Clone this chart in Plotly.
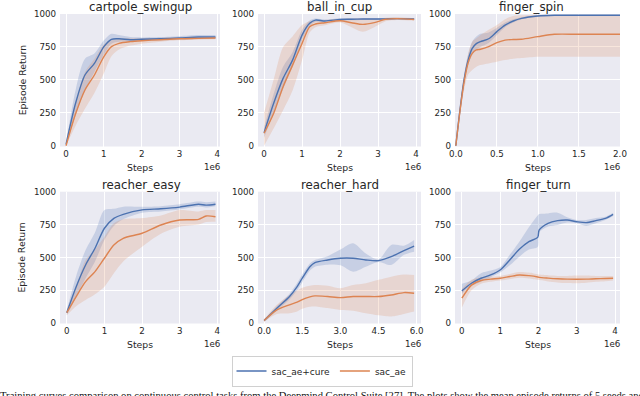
import plotly.graph_objects as go

# ---------------- data (x in units of 1e6 steps) ----------------
tasks = ["cartpole_swingup", "ball_in_cup", "finger_spin",
         "reacher_easy", "reacher_hard", "finger_turn"]

cartpole_x = [0, 0.25, 0.5, 0.75, 1.0, 1.2, 1.4, 1.7, 2.0, 2.5, 3.0, 3.5, 3.95]
cartpole_cure = [10, 320, 537, 625, 752, 808, 812, 805, 808, 812, 818, 825, 825]
cartpole_cure_lo = [0, 230, 420, 560, 690, 775, 790, 790, 795, 800, 805, 810, 810]
cartpole_cure_hi = [20, 420, 660, 700, 800, 850, 840, 825, 822, 825, 832, 840, 840]
cartpole_ae = [0, 240, 423, 537, 676, 752, 777, 790, 797, 805, 812, 815, 818]
cartpole_ae_lo = [0, 150, 280, 400, 550, 680, 730, 760, 775, 790, 800, 805, 808]
cartpole_ae_hi = [0, 330, 560, 660, 770, 800, 810, 815, 815, 820, 824, 825, 828]

ball_x = [0, 0.25, 0.5, 0.75, 1.0, 1.2, 1.35, 1.6, 2.0, 2.3, 2.6, 2.9, 3.2, 3.5, 3.95]
ball_cure = [99, 320, 511, 650, 840, 929, 954, 947, 958, 960, 962, 962, 963, 965, 962]
ball_cure_lo = [60, 250, 430, 600, 800, 910, 940, 938, 950, 952, 955, 955, 957, 958, 955]
ball_cure_hi = [140, 390, 600, 710, 880, 950, 965, 958, 968, 968, 968, 968, 970, 972, 968]
ball_ae = [95, 245, 448, 612, 777, 904, 924, 934, 949, 934, 921, 934, 960, 965, 958]
ball_ae_lo = [0, 130, 270, 420, 650, 860, 900, 915, 935, 900, 866, 900, 945, 955, 950]
ball_ae_hi = [250, 500, 750, 830, 916, 945, 950, 955, 962, 965, 967, 965, 972, 975, 968]

spin_x = [0, 0.05, 0.1, 0.15, 0.2, 0.25, 0.3, 0.4, 0.5, 0.6, 0.7, 0.8, 1.0, 1.2, 1.5, 2.0]
spin_cure = [0, 270, 499, 650, 739, 775, 790, 812, 866, 916, 947, 967, 985, 990, 990, 990]
spin_cure_lo = [0, 250, 470, 610, 690, 730, 750, 780, 840, 900, 935, 960, 980, 985, 985, 985]
spin_cure_hi = [0, 290, 530, 690, 790, 830, 850, 860, 895, 935, 960, 975, 992, 995, 995, 995]
spin_ae = [0, 260, 480, 630, 701, 727, 732, 752, 782, 802, 806, 808, 828, 846, 846, 846]
spin_ae_lo = [0, 230, 420, 540, 575, 600, 613, 625, 638, 650, 660, 665, 675, 676, 676, 676]
spin_ae_hi = [0, 290, 530, 700, 790, 815, 840, 880, 916, 960, 985, 990, 992, 992, 992, 992]

easy_x = [0, 0.25, 0.5, 0.75, 1.0, 1.25, 1.5, 2.0, 2.5, 3.0, 3.5, 3.7, 3.95]
easy_cure = [80, 278, 443, 570, 722, 797, 828, 862, 870, 883, 905, 898, 905]
easy_cure_lo = [60, 200, 342, 470, 633, 740, 790, 840, 850, 865, 885, 880, 890]
easy_cure_hi = [100, 360, 557, 690, 861, 870, 886, 885, 890, 905, 925, 920, 925]
easy_ae = [80, 203, 316, 392, 494, 595, 646, 684, 747, 785, 790, 815, 810]
easy_ae_lo = [60, 130, 177, 220, 278, 380, 470, 582, 680, 734, 750, 770, 772]
easy_ae_hi = [100, 280, 481, 560, 658, 760, 790, 800, 820, 861, 850, 860, 861]

hard_x = [0, 0.5, 1.0, 1.3, 1.5, 1.8, 2.0, 2.5, 3.0, 3.5, 4.0, 4.5, 5.0, 5.5, 5.9]
hard_cure = [20, 114, 203, 278, 342, 430, 461, 481, 494, 494, 481, 476, 506, 552, 587]
hard_cure_lo = [10, 95, 180, 250, 310, 400, 430, 445, 440, 392, 430, 466, 443, 520, 544]
hard_cure_hi = [30, 130, 225, 305, 370, 455, 481, 510, 560, 608, 530, 486, 595, 590, 633]
hard_ae = [20, 101, 140, 160, 180, 200, 208, 203, 195, 203, 203, 203, 215, 233, 228]
hard_ae_lo = [10, 70, 76, 90, 110, 125, 127, 115, 101, 95, 76, 60, 51, 70, 89]
hard_ae_hi = [30, 140, 215, 250, 270, 285, 291, 285, 266, 290, 304, 330, 354, 370, 367]

turn_x = [0, 0.25, 0.5, 0.75, 1.0, 1.25, 1.5, 1.75, 1.98, 2.02, 2.25, 2.5, 2.75, 3.0, 3.25, 3.5, 3.75, 3.95]
turn_cure = [246, 304, 342, 367, 405, 481, 562, 620, 653, 709, 760, 780, 785, 772, 765, 780, 797, 828]
turn_cure_lo = [225, 285, 316, 350, 385, 440, 506, 560, 580, 690, 735, 747, 765, 760, 740, 760, 785, 815]
turn_cure_hi = [300, 325, 380, 400, 425, 520, 620, 730, 820, 830, 835, 840, 805, 785, 785, 800, 810, 840]
turn_ae = [190, 290, 325, 335, 342, 355, 367, 362, 352, 349, 343, 338, 335, 334, 335, 338, 340, 342]
turn_ae_lo = [120, 250, 300, 315, 325, 335, 345, 340, 330, 328, 318, 310, 305, 304, 308, 315, 320, 325]
turn_ae_hi = [260, 330, 350, 355, 360, 375, 390, 385, 372, 370, 365, 360, 360, 362, 362, 360, 360, 360]

y_ticks = [0, 250, 500, 750, 1000]
x_ticks = [[0, 1, 2, 3, 4], [0, 1, 2, 3, 4], [0.0, 0.5, 1.0, 1.5, 2.0],
           [0, 1, 2, 3, 4], [0.0, 1.5, 3.0, 4.5, 6.0], [0, 1, 2, 3, 4]]
series_names = ["sac_ae+cure", "sac_ae"]

data = [
    (cartpole_x, cartpole_cure, cartpole_cure_lo, cartpole_cure_hi, cartpole_ae, cartpole_ae_lo, cartpole_ae_hi),
    (ball_x, ball_cure, ball_cure_lo, ball_cure_hi, ball_ae, ball_ae_lo, ball_ae_hi),
    (spin_x, spin_cure, spin_cure_lo, spin_cure_hi, spin_ae, spin_ae_lo, spin_ae_hi),
    (easy_x, easy_cure, easy_cure_lo, easy_cure_hi, easy_ae, easy_ae_lo, easy_ae_hi),
    (hard_x, hard_cure, hard_cure_lo, hard_cure_hi, hard_ae, hard_ae_lo, hard_ae_hi),
    (turn_x, turn_cure, turn_cure_lo, turn_cure_hi, turn_ae, turn_ae_lo, turn_ae_hi),
]

# ---------------- layout geometry ----------------
W, H = 640, 396
col_px = [(60, 220), (258, 421), (455, 620)]
row_px = [(14, 146.5), (191.7, 323.5)]
title_cx = [140, 339.5, 531, 141, 339.5, 538]
x_ranges = [[-0.16, 4.07], [-0.16, 4.13], [-0.01, 2.0],
            [-0.18, 4.07], [-0.24, 6.17], [-0.18, 4.13]]
y_ranges = [[-6, 1000], [-2, 1000]]

BLUE = "#4C72B0"
ORANGE = "#DD8452"
BLUE_F = "rgba(76,114,176,0.22)"
ORANGE_F = "rgba(221,132,82,0.20)"
TXT = "#262626"
FONT = "DejaVu Sans"

fig = go.Figure()
layout = {}
annotations = []

for i, task in enumerate(tasks):
    r, c = divmod(i, 3)
    n = i + 1
    xa = "x" if n == 1 else f"x{n}"
    ya = "y" if n == 1 else f"y{n}"
    xs, cu, cu_lo, cu_hi, ae, ae_lo, ae_hi = data[i]

    for lo, hi, fc in ((cu_lo, cu_hi, BLUE_F), (ae_lo, ae_hi, ORANGE_F)):
        fig.add_trace(go.Scatter(x=xs, y=lo, xaxis=xa, yaxis=ya, mode="lines",
                                 line=dict(width=0, shape="spline", smoothing=0.8),
                                 showlegend=False, hoverinfo="skip"))
        fig.add_trace(go.Scatter(x=xs, y=hi, xaxis=xa, yaxis=ya, mode="lines",
                                 line=dict(width=0, shape="spline", smoothing=0.8),
                                 fill="tonexty", fillcolor=fc,
                                 showlegend=False, hoverinfo="skip"))
    fig.add_trace(go.Scatter(x=xs, y=cu, xaxis=xa, yaxis=ya, mode="lines",
                             line=dict(color=BLUE, width=1.4, shape="spline", smoothing=0.8),
                             name=series_names[0], showlegend=(i == 0), legendgroup="a"))
    fig.add_trace(go.Scatter(x=xs, y=ae, xaxis=xa, yaxis=ya, mode="lines",
                             line=dict(color=ORANGE, width=1.4, shape="spline", smoothing=0.8),
                             name=series_names[1], showlegend=(i == 0), legendgroup="b"))

    x0, x1 = col_px[c]
    y0, y1 = row_px[r]
    tick_fmt = ".1f" if i in (2, 4) else "d"
    layout["xaxis" if n == 1 else f"xaxis{n}"] = dict(
        domain=[x0 / W, x1 / W], anchor=ya, range=x_ranges[i], automargin=False,
        tickvals=x_ticks[i], ticktext=[format(v, tick_fmt) for v in x_ticks[i]],
        showgrid=True, gridcolor="white", gridwidth=1, zeroline=False,
        showline=False, ticks="", tickfont=dict(family=FONT, size=8.7, color=TXT),
        ticklabelstandoff=1)
    layout["yaxis" if n == 1 else f"yaxis{n}"] = dict(
        domain=[1 - y1 / H, 1 - y0 / H], anchor=xa, range=y_ranges[r], automargin=False,
        tickvals=y_ticks, showgrid=True, gridcolor="white", gridwidth=1,
        zeroline=False, showline=False, ticks="",
        tickfont=dict(family=FONT, size=8.7, color=TXT), ticklabelstandoff=3)

    cx = (x0 + x1) / 2 / W
    annotations.append(dict(text=task, x=title_cx[i] / W, y=1 - (y0 - 7) / H, xref="paper", yref="paper",
                            showarrow=False, xanchor="center", yanchor="middle",
                            font=dict(family=FONT, size=11.8, color=TXT)))
    annotations.append(dict(text="Steps", x=cx, y=1 - (y1 + 20.5) / H, xref="paper", yref="paper",
                            showarrow=False, xanchor="center", yanchor="middle",
                            font=dict(family=FONT, size=9.3, color=TXT)))
    annotations.append(dict(text="1e6", x=(x1 + 2) / W, y=1 - (y1 + 20.5) / H, xref="paper", yref="paper",
                            showarrow=False, xanchor="right", yanchor="middle",
                            font=dict(family=FONT, size=8.7, color=TXT)))
    if c == 0:
        annotations.append(dict(text="Episode Return", x=22 / W, y=1 - (y0 + y1) / 2 / H,
                                xref="paper", yref="paper", showarrow=False, textangle=-90,
                                xanchor="center", yanchor="middle",
                                font=dict(family=FONT, size=9.3, color=TXT)))

annotations.append(dict(
    text="Training curves comparison on continuous control tasks from the Deepmind Control Suite [27]. "
         "The plots show the mean episode returns of 5 seeds and the standard deviation",
    x=-2 / W, y=1 - 395 / H, xref="paper", yref="paper", showarrow=False,
    xanchor="left", yanchor="middle", font=dict(family="Liberation Serif", size=10.6, color="#111111")))

fig.update_layout(
    width=W, height=H, margin=dict(l=0, r=0, t=0, b=0),
    paper_bgcolor="white", plot_bgcolor="#EAEAF2",
    showlegend=True,
    legend=dict(orientation="h", x=322 / W, y=1 - 371 / H, xanchor="center", yanchor="middle",
                bgcolor="white", bordercolor="#D0D0D0", borderwidth=1,
                font=dict(family=FONT, size=9, color=TXT), itemwidth=30),
    annotations=annotations,
    **layout,
)

fig.write_html("out.html", config={"displayModeBar": False},
               post_script="document.body.style.margin='0';document.body.style.overflow='hidden';")
